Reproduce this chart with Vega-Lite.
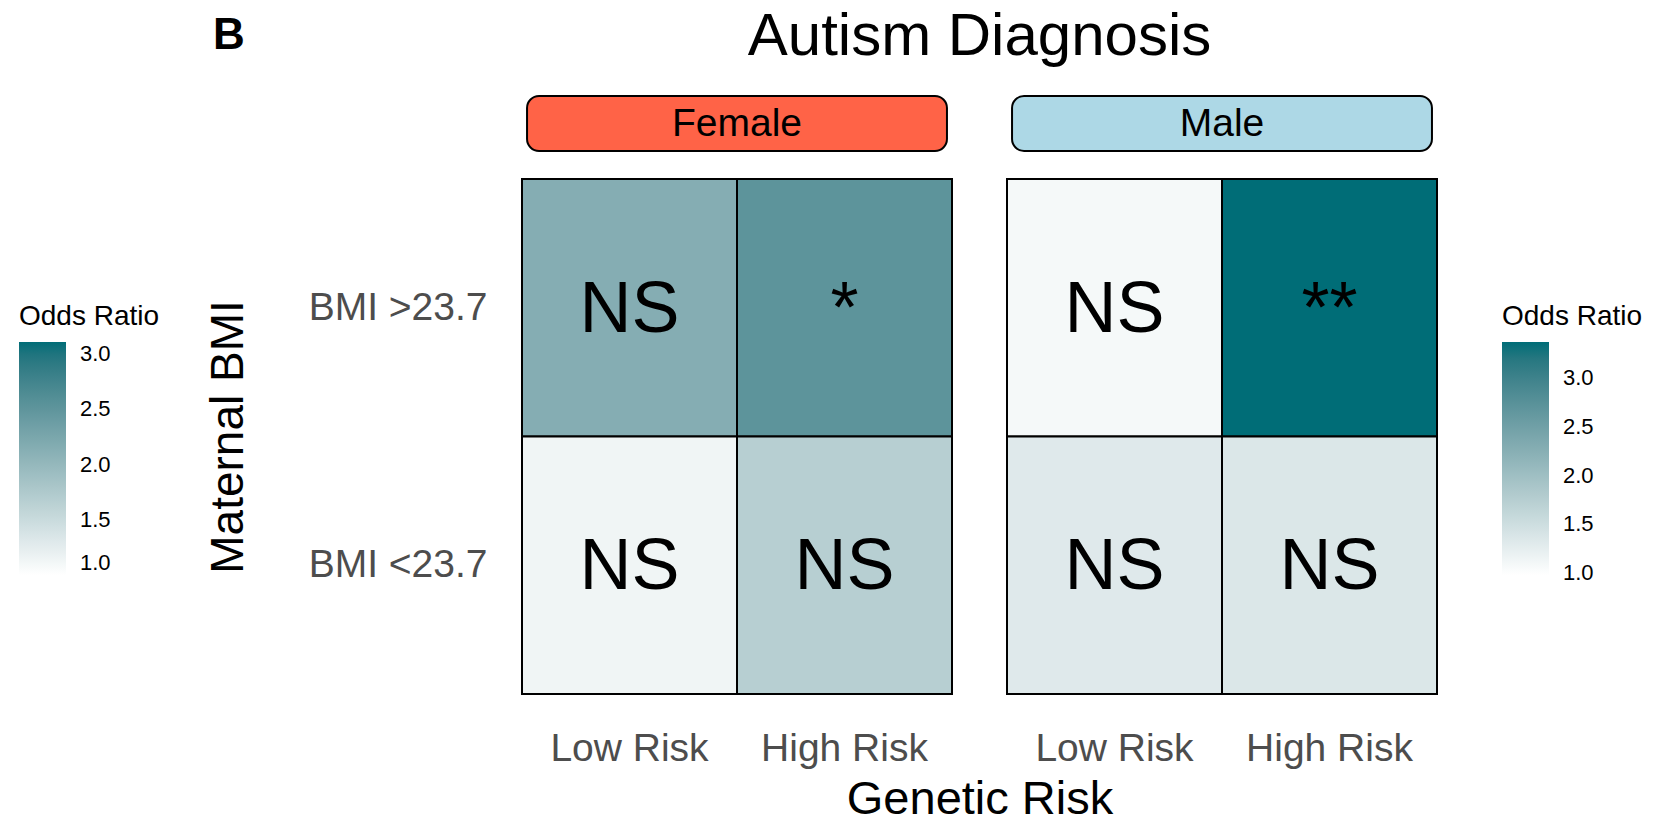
{
  "$schema": "https://vega.github.io/schema/vega-lite/v6.json",
  "padding": {"left": 19, "top": 7, "right": 20, "bottom": 0},
  "background": "white",
  "config": {"font": "Liberation Sans", "view": {"stroke": null}},
  "columns": 2,
  "spacing": {"row": 28, "column": 55},
  "bounds": "flush",
  "align": "each",
  "resolve": {"scale": {"x": "independent", "y": "independent", "color": "independent"}},
  "concat": [
    {
      "width": 430,
      "height": 55,
      "title": {"text": "B", "anchor": "start", "frame": "group", "dx": -309, "offset": 2, "fontSize": 44, "fontWeight": "bold", "color": "black", "baseline": "alphabetic"},
      "data": {"values": [{"sex": "Female"}]},
      "encoding": {
        "x": {"field": "sex", "type": "nominal", "scale": {"paddingInner": 0, "paddingOuter": 0.012}, "axis": null},
        "y": {"field": "sex", "type": "nominal", "scale": {"paddingInner": 0, "paddingOuter": 0}, "axis": null}
      },
      "layer": [
        {"mark": {"type": "rect", "fill": "#ff6347", "stroke": "black", "strokeWidth": 2, "cornerRadius": 12}},
        {"mark": {"type": "text", "fontSize": 39, "color": "black"}, "encoding": {"text": {"field": "sex"}}}
      ]
    },
    {
      "width": 430,
      "height": 55,
      "title": {"text": "Autism Diagnosis", "anchor": "middle", "frame": "group", "dx": -242.5, "offset": -20, "fontSize": 60, "fontWeight": "normal", "color": "black", "baseline": "alphabetic"},
      "data": {"values": [{"sex": "Male"}]},
      "encoding": {
        "x": {"field": "sex", "type": "nominal", "scale": {"paddingInner": 0, "paddingOuter": 0.012}, "axis": null},
        "y": {"field": "sex", "type": "nominal", "scale": {"paddingInner": 0, "paddingOuter": 0}, "axis": null}
      },
      "layer": [
        {"mark": {"type": "rect", "fill": "#add8e6", "stroke": "black", "strokeWidth": 2, "cornerRadius": 12}},
        {"mark": {"type": "text", "fontSize": 39, "color": "black"}, "encoding": {"text": {"field": "sex"}}}
      ]
    },
    {
      "width": 430,
      "height": 515,
      "data": {"values": [
        {"genetic": "Low Risk", "bmi": "BMI >23.7", "odds": 2.15, "sig": "NS"},
        {"genetic": "High Risk", "bmi": "BMI >23.7", "odds": 2.52, "sig": "*"},
        {"genetic": "Low Risk", "bmi": "BMI <23.7", "odds": 1.14, "sig": "NS"},
        {"genetic": "High Risk", "bmi": "BMI <23.7", "odds": 1.67, "sig": "NS"}
      ]},
      "encoding": {
        "x": {"field": "genetic", "type": "nominal", "sort": ["Low Risk", "High Risk"], "scale": {"paddingInner": 0, "paddingOuter": 0},
          "axis": {"title": "Genetic Risk", "titleX": 457.5, "titleFontSize": 47, "titleFontWeight": "normal", "titleColor": "black", "labelFontSize": 39, "labelColor": "#4d4d4d", "labelAngle": 0, "ticks": false, "domain": false, "labelPadding": 35, "titlePadding": 8}},
        "y": {"field": "bmi", "type": "nominal", "sort": ["BMI >23.7", "BMI <23.7"], "scale": {"paddingInner": 0, "paddingOuter": 0},
          "axis": {"title": "Maternal BMI", "titleFontSize": 46, "titleFontWeight": "normal", "titleColor": "black", "labelFontSize": 39, "labelColor": "#4d4d4d", "ticks": false, "domain": false, "labelPadding": 35, "titlePadding": 70}}
      },
      "layer": [
        {"mark": {"type": "rect", "stroke": "black", "strokeWidth": 2},
          "encoding": {"color": {"field": "odds", "type": "quantitative",
            "scale": {"domain": [1.0, 3.11], "range": ["#ffffff", "#006d77"], "interpolate": "lab"},
            "legend": {"orient": "none", "legendX": -503, "legendY": 124, "padding": 0, "title": "Odds Ratio", "titleFontSize": 28, "titleFontWeight": "normal", "titleColor": "black", "titlePadding": 11, "labelFontSize": 22, "labelColor": "black", "labelOffset": 14, "gradientLength": 233, "gradientThickness": 47, "gradientStrokeWidth": 0, "values": [1, 1.5, 2, 2.5, 3], "format": ".1f"}}}},
        {"mark": {"type": "text", "fontSize": 72, "color": "black", "dy": 2}, "encoding": {"text": {"field": "sig"}}}
      ]
    },
    {
      "width": 430,
      "height": 515,
      "data": {"values": [
        {"genetic": "Low Risk", "bmi": "BMI >23.7", "odds": 1.08, "sig": "NS"},
        {"genetic": "High Risk", "bmi": "BMI >23.7", "odds": 3.37, "sig": "**"},
        {"genetic": "Low Risk", "bmi": "BMI <23.7", "odds": 1.32, "sig": "NS"},
        {"genetic": "High Risk", "bmi": "BMI <23.7", "odds": 1.36, "sig": "NS"}
      ]},
      "encoding": {
        "x": {"field": "genetic", "type": "nominal", "sort": ["Low Risk", "High Risk"], "scale": {"paddingInner": 0, "paddingOuter": 0},
          "axis": {"title": null, "labelFontSize": 39, "labelColor": "#4d4d4d", "labelAngle": 0, "ticks": false, "domain": false, "labelPadding": 35}},
        "y": {"field": "bmi", "type": "nominal", "sort": ["BMI >23.7", "BMI <23.7"], "scale": {"paddingInner": 0, "paddingOuter": 0}, "axis": null}
      },
      "layer": [
        {"mark": {"type": "rect", "stroke": "black", "strokeWidth": 2},
          "encoding": {"color": {"field": "odds", "type": "quantitative",
            "scale": {"domain": [0.98, 3.37], "range": ["#ffffff", "#006d77"], "interpolate": "lab"},
            "legend": {"orient": "none", "legendX": 495, "legendY": 124, "padding": 0, "title": "Odds Ratio", "titleFontSize": 28, "titleFontWeight": "normal", "titleColor": "black", "titlePadding": 11, "labelFontSize": 22, "labelColor": "black", "labelOffset": 14, "gradientLength": 233, "gradientThickness": 47, "gradientStrokeWidth": 0, "values": [1, 1.5, 2, 2.5, 3], "format": ".1f"}}}},
        {"mark": {"type": "text", "fontSize": 72, "color": "black", "dy": 2}, "encoding": {"text": {"field": "sig"}}}
      ]
    }
  ]
}
